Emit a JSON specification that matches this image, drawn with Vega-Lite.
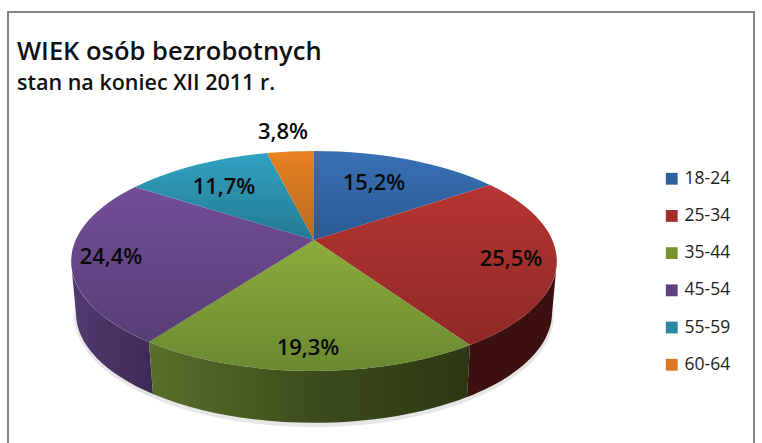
{
"$schema":"https://vega.github.io/schema/vega-lite/v6.json",
"width":746,"height":440,
"autosize":{"type":"none"},
"padding":{"left":8,"top":12,"right":8,"bottom":0},
"background":"white",
"config":{"view":{"stroke":"#868686","strokeWidth":2,"fill":"white"},"font":"Open Sans"},
"title":{"text":"WIEK osób bezrobotnych","subtitle":"stan na koniec XII 2011 r.","anchor":"start","frame":"group","dx":9,"offset":-82,"font":"Open Sans","fontSize":25.5,"fontWeight":600,"color":"#111111","subtitleFont":"Open Sans","subtitleFontSize":21.5,"subtitleFontWeight":600,"subtitleColor":"#111111","subtitlePadding":7},
"data":{"values":[
{"age":"18-24","value":15.2,"label":"15,2%"},
{"age":"25-34","value":25.5,"label":"25,5%"},
{"age":"35-44","value":19.3,"label":"19,3%"},
{"age":"45-54","value":24.4,"label":"24,4%"},
{"age":"55-59","value":11.7,"label":"11,7%"},
{"age":"60-64","value":3.8,"label":"3,8%"}
]},
"encoding":{
"x":{"datum":0,"type":"quantitative","scale":{"domain":[-306,440],"nice":false,"zero":false},"axis":null},
"y":{"datum":0,"type":"quantitative","scale":{"domain":[-212,228],"nice":false,"zero":false},"axis":null}
},
"layer":[
{"mark":{"type":"point","filled":true,"opacity":1,"size":0,"strokeWidth":0},
 "encoding":{"color":{"field":"age","type":"nominal","scale":{"domain":["18-24","25-34","35-44","45-54","55-59","60-64"],"range":["#2f5f9f","#a02f2d","#76932f","#5f4080","#2a88a3","#d9761f"]},
  "legend":{"title":null,"orient":"none","legendX":655,"legendY":158,"symbolType":"square","symbolSize":140,"symbolStrokeWidth":0,"labelFont":"Open Sans","labelFontSize":17.5,"labelColor":"#222222","labelOffset":4,"rowPadding":18.2}}}},
{"data":{"values":[{"part":"shadow"}]},
 "mark":{"type":"point","filled":true,"opacity":1,"size":4,"strokeWidth":0,"fill":"#e6e6e6","shape":"M-240,75A240,112,0,1,1,240,75A240,112,0,1,1,-240,75Z"}},
{"transform":[{"filter":"datum.age==='45-54'"}],
 "mark":{"type":"point","filled":true,"opacity":1,"size":4,"strokeWidth":0,"shape":"M-165,102A243,110,0,0,1,-243,21L-238,74A238,110,0,0,0,-161,154Z",
 "fill":{"gradient":"linear","x1":0,"y1":0,"x2":1,"y2":0,"stops":[{"offset":0,"color":"#523a6e"},{"offset":1,"color":"#3e2a58"}]}}},
{"transform":[{"filter":"datum.age==='35-44'"}],
 "mark":{"type":"point","filled":true,"opacity":1,"size":4,"strokeWidth":0,"shape":"M156,105A243,110,0,0,1,-165,102L-161,154A238,110,0,0,0,153,157Z",
 "fill":{"gradient":"linear","x1":0,"y1":0,"x2":1,"y2":0,"stops":[{"offset":0,"color":"#5a6f2b"},{"offset":0.5,"color":"#3d4d1c"},{"offset":1,"color":"#2c3812"}]}}},
{"transform":[{"filter":"datum.age==='25-34'"}],
 "mark":{"type":"point","filled":true,"opacity":1,"size":4,"strokeWidth":0,"shape":"M243,21A243,110,0,0,1,156,105L153,157A238,110,0,0,0,238,74Z","fill":"#3b100f"}},
{"transform":[{"filter":"datum.age==='18-24'"}],
 "mark":{"type":"point","filled":true,"opacity":1,"size":4,"strokeWidth":0,"shape":"M0,0L0,-89A243,110,0,0,1,176,-55Z",
 "fill":{"gradient":"linear","x1":0,"y1":0,"x2":0,"y2":1,"stops":[{"offset":0,"color":"#3a70b5"},{"offset":1,"color":"#2a5a95"}]}}},
{"transform":[{"filter":"datum.age==='25-34'"}],
 "mark":{"type":"point","filled":true,"opacity":1,"size":4,"strokeWidth":0,"shape":"M0,0L176,-55A243,110,0,0,1,156,105Z",
 "fill":{"gradient":"linear","x1":0,"y1":0,"x2":0,"y2":1,"stops":[{"offset":0,"color":"#b53532"},{"offset":1,"color":"#8f2826"}]}}},
{"transform":[{"filter":"datum.age==='35-44'"}],
 "mark":{"type":"point","filled":true,"opacity":1,"size":4,"strokeWidth":0,"shape":"M0,0L156,105A243,110,0,0,1,-165,102Z",
 "fill":{"gradient":"linear","x1":0,"y1":0,"x2":0,"y2":1,"stops":[{"offset":0,"color":"#8cad3c"},{"offset":1,"color":"#6a8830"}]}}},
{"transform":[{"filter":"datum.age==='45-54'"}],
 "mark":{"type":"point","filled":true,"opacity":1,"size":4,"strokeWidth":0,"shape":"M0,0L-165,102A243,110,0,0,1,-179,-53Z",
 "fill":{"gradient":"linear","x1":0,"y1":0,"x2":0,"y2":1,"stops":[{"offset":0,"color":"#734e97"},{"offset":1,"color":"#573d75"}]}}},
{"transform":[{"filter":"datum.age==='55-59'"}],
 "mark":{"type":"point","filled":true,"opacity":1,"size":4,"strokeWidth":0,"shape":"M0,0L-179,-53A243,110,0,0,1,-47,-87Z",
 "fill":{"gradient":"linear","x1":0,"y1":0,"x2":0,"y2":1,"stops":[{"offset":0,"color":"#31a2c2"},{"offset":1,"color":"#237a90"}]}}},
{"transform":[{"filter":"datum.age==='60-64'"}],
 "mark":{"type":"point","filled":true,"opacity":1,"size":4,"strokeWidth":0,"shape":"M0,0L-47,-87A243,110,0,0,1,0,-89Z",
 "fill":{"gradient":"linear","x1":0,"y1":0,"x2":0,"y2":1,"stops":[{"offset":0,"color":"#ea8222"},{"offset":1,"color":"#b66a20"}]}}},
{"mark":{"type":"text","font":"Open Sans","fontSize":22,"fontWeight":600,"color":"#0a0a0a","align":"center","baseline":"middle"},
 "encoding":{
 "text":{"field":"label"},
 "xOffset":{"field":"value","type":"quantitative","scale":{"domain":[3.8,11.7,15.2,19.3,24.4,25.5],"range":[-31,-90,60,-6,-203,197]}},
 "yOffset":{"field":"value","type":"quantitative","scale":{"domain":[3.8,11.7,15.2,19.3,24.4,25.5],"range":[-108,-53,-57,108,17,19]}}
 }}
]
}
